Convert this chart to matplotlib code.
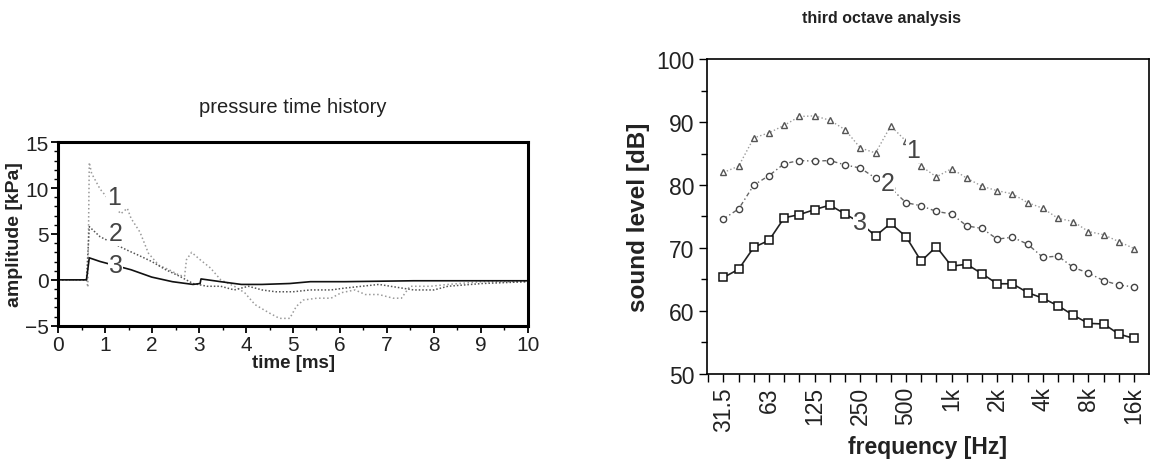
import matplotlib
matplotlib.use('Agg')
import matplotlib.pyplot as plt
import numpy as np
from matplotlib.ticker import MultipleLocator

plt.rcParams['font.family'] = ['Liberation Sans', 'DejaVu Sans']

# pressure time history (time in ms, amplitude in kPa)
t1 = [0, 0.6, 0.63, 0.66, 0.71, 0.89, 1.33, 1.47, 1.55, 1.74, 1.92, 2.14, 2.36, 2.58, 2.69, 2.73,
      2.84, 3.02, 3.24, 3.46, 3.75, 3.97, 4.19, 4.49, 4.71, 4.93, 5.07, 5.22, 5.51, 5.81, 6.03,
      6.32, 6.54, 6.83, 7.13, 7.31, 7.49, 7.93, 8.3, 9.03, 10]
p1 = [0, 0, -0.8, 12.8, 11.6, 9.9, 7.2, 7.8, 6.7, 5.2, 2.9, 1.6, 1.1, 0.5, 0.4, 2.2,
      3.0, 2.2, 1.3, 0, -0.7, -1.4, -2.7, -3.6, -4.2, -4.2, -2.9, -2.2, -2.0, -2.0, -1.4,
      -1.1, -1.6, -1.6, -2.0, -2.0, -0.7, -0.7, -0.5, -0.2, -0.2]
t2 = [0, 0.6, 0.66, 0.89, 1.44, 1.7, 1.99, 2.29, 2.58, 2.87, 3.17, 3.46, 3.75, 4.05, 4.34,
      4.63, 5.0, 5.37, 5.81, 6.1, 6.83, 7.57, 8.0, 8.3, 9.03, 10]
p2 = [0, 0, 5.8, 4.7, 3.3, 2.7, 2.0, 1.1, 0.4, -0.4, -0.7, -0.7, -1.1, -0.7, -1.1,
      -1.3, -1.3, -1.1, -1.1, -0.9, -0.5, -1.1, -1.1, -0.7, -0.4, -0.2]
t3 = [0, 0.6, 0.66, 0.89, 1.55, 1.99, 2.43, 2.87, 3.02, 3.04, 3.46, 3.9, 4.34, 4.93, 5.37,
      6.1, 7.57, 10]
p3 = [0, 0, 2.4, 2.0, 1.1, 0.3, -0.2, -0.5, -0.4, 0.1, -0.2, -0.5, -0.5, -0.4, -0.2,
      -0.2, -0.1, -0.1]

# third octave analysis
bands = ['31.5', '40', '50', '63', '80', '100', '125', '160', '200', '250', '315', '400',
         '500', '630', '800', '1k', '1.25k', '1.6k', '2k', '2.5k', '3.15k', '4k', '5k',
         '6.3k', '8k', '10k', '12.5k', '16k']
lvl1 = [82, 83, 87.5, 88.3, 89.5, 90.9, 91, 90.3, 88.8, 85.9, 85.1, 89.4, 87, 83,
        81.3, 82.6, 81.1, 79.8, 79.1, 78.6, 77.2, 76.3, 74.7, 74.2, 72.6, 72.1, 71, 69.9]
lvl2 = [74.6, 76.2, 80, 81.5, 83.4, 83.9, 83.8, 83.9, 83.2, 82.7, 81.1, 79.5, 77.2, 76.7,
        75.8, 75.4, 73.5, 73.1, 71.4, 71.7, 70.6, 68.5, 68.7, 66.9, 66, 64.8, 64.1, 63.8]
lvl3 = [65.3, 66.6, 70.1, 71.2, 74.8, 75.3, 76.1, 76.8, 75.4, 74, 71.9, 73.9, 71.8, 67.9,
        70.2, 67.1, 67.4, 65.9, 64.3, 64.3, 62.9, 62, 60.8, 59.3, 58, 57.9, 56.3, 55.6]
shown = ['31.5', '63', '125', '250', '500', '1k', '2k', '4k', '8k', '16k']


def main():
    fig = plt.figure(figsize=(11.5, 4.64), dpi=100)

    # ---- left: pressure time history
    ax1 = fig.add_axes([0.0507, 0.2959, 0.4082, 0.3953])
    ax1.plot(t1, p1, color='#9a9a9a', lw=1.1, ls=':')
    ax1.plot(t2, p2, color='#555555', lw=1.1, ls=(0, (1, 1.3)))
    ax1.plot(t3, p3, color='#111111', lw=1.2)
    for lab, x, y in (('1', 1.19, 9.0), ('2', 1.22, 5.1), ('3', 1.22, 1.6)):
        ax1.text(x, y, lab, fontsize=18, color='#444444', ha='center', va='center',
                 bbox=dict(facecolor='white', edgecolor='none', pad=0.5))
    ax1.set_xlim(0, 10)
    ax1.set_ylim(-5, 15)
    ax1.xaxis.set_major_locator(MultipleLocator(1))
    ax1.xaxis.set_minor_locator(MultipleLocator(0.5))
    ax1.set_yticks([-5, 0, 5, 10, 15])
    ax1.set_yticklabels(['\u22125', '0', '5', '10', '15'])
    ax1.yaxis.set_minor_locator(MultipleLocator(1))
    ax1.tick_params(which='major', length=5, width=1.3, labelsize=15, pad=2,
                    labelcolor='#222222')
    ax1.tick_params(which='minor', length=3, width=1.0)
    for s in ax1.spines.values():
        s.set_linewidth(2.2)
    ax1.set_xlabel('time [ms]', fontsize=13.5, fontweight='bold', labelpad=0,
                   color='#222222')
    ax1.set_ylabel('amplitude [kPa]', fontsize=14, fontweight='bold', labelpad=1,
                   color='#222222')
    ax1.set_title('pressure time history', fontsize=14.5, pad=22, color='#222222')

    # ---- right: third octave analysis
    ax2 = fig.add_axes([0.6145, 0.1925, 0.3849, 0.6776])
    x = np.arange(1, len(bands) + 1)
    ax2.plot(x, lvl1, color='#9a9a9a', lw=1.0, ls=':', marker='^', ms=4.5,
             mfc='white', mec='#555555', mew=1.0)
    ax2.plot(x, lvl2, color='#666666', lw=1.0, ls=(0, (3, 2, 1, 2)), marker='o', ms=4.5,
             mfc='white', mec='#444444', mew=1.0)
    ax2.plot(x, lvl3, color='#222222', lw=1.2, marker='s', ms=5.5,
             mfc='white', mec='#111111', mew=1.1)
    for lab, xx, yy in (('1', 13.5, 85.6), ('2', 11.8, 80.3), ('3', 10.0, 74.2)):
        ax2.text(xx, yy, lab, fontsize=18, color='#444444', ha='center', va='center',
                 bbox=dict(facecolor='white', edgecolor='none', pad=0.5))
    ax2.set_xlim(-0.1, 29)
    ax2.set_ylim(50, 100)
    ax2.set_xticks(np.arange(0, len(bands) + 1))
    ax2.set_xticklabels([''] + [b if b in shown else '' for b in bands],
                        rotation=90, fontsize=16.5)
    ax2.yaxis.set_major_locator(MultipleLocator(10))
    ax2.yaxis.set_minor_locator(MultipleLocator(5))
    ax2.tick_params(which='major', length=6, width=1.0, labelsize=16.5, pad=3,
                    labelcolor='#222222')
    ax2.tick_params(which='minor', length=4, width=1.0)
    for s in ax2.spines.values():
        s.set_linewidth(1.2)
    ax2.set_xlabel('frequency [Hz]', fontsize=16.5, fontweight='bold', labelpad=3,
                   color='#222222')
    ax2.set_ylabel('sound level [dB]', fontsize=17.5, fontweight='bold', labelpad=4,
                   color='#222222')
    fig.text(882 / 1150, 1 - 18 / 464, 'third octave analysis', fontsize=11.5,
             fontweight='bold', ha='center', va='center', color='#222222')

    plt.savefig('out.png', dpi=100)


if __name__ == '__main__':
    main()
